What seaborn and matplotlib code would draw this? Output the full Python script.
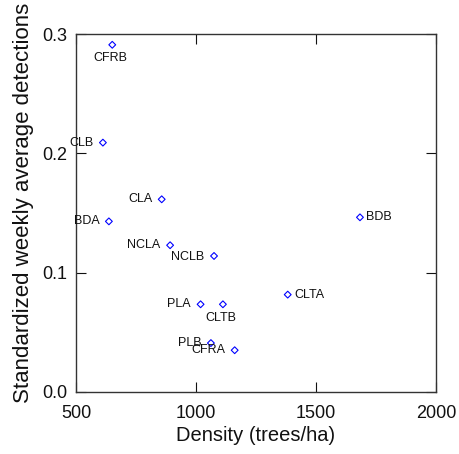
import matplotlib
matplotlib.use("Agg")
import matplotlib.pyplot as plt
import seaborn as sns
import pandas as pd

sites = ["CFRB", "CLB", "CLA", "BDA", "NCLA", "NCLB", "PLA", "CLTB", "PLB", "CFRA", "BDB", "CLTA"]
density = [651, 612, 857, 637, 892, 1075, 1019, 1112, 1062, 1161, 1683, 1382]
detections = [0.291, 0.209, 0.1615, 0.143, 0.123, 0.114, 0.0735, 0.0735, 0.041, 0.035, 0.1464, 0.0816]
# label placement: (dx px, dy px, ha)
label_pos = {
    "CFRB": (-1.5, -13.5, "center"),
    "CLB": (-9, 0, "right"),
    "CLA": (-9.5, 0, "right"),
    "BDA": (-9, 0, "right"),
    "NCLA": (-10, 0, "right"),
    "NCLB": (-10, -1, "right"),
    "PLA": (-9.5, 0, "right"),
    "CLTB": (-2, -13.5, "center"),
    "PLB": (-9.5, 0, "right"),
    "CFRA": (-9.5, 0, "right"),
    "BDB": (6, 0, "left"),
    "CLTA": (6.5, 0, "left"),
}

df = pd.DataFrame({"site": sites, "density": density, "det": detections})

sns.set_style("white")
plt.rcParams["font.family"] = ["Liberation Sans", "DejaVu Sans"]

fig = plt.figure(figsize=(4.59, 4.54), dpi=100)
ax = fig.add_axes([0.1656, 0.1366, 0.7844, 0.7884])

sns.scatterplot(data=df, x="density", y="det", ax=ax, marker="D", s=12,
                facecolor="none", edgecolor="#0000ff", linewidth=0.8, legend=False)

for s, x, y in zip(sites, density, detections):
    dx, dy, ha = label_pos[s]
    ax.annotate(s, (x, y), xytext=(dx, dy), textcoords="offset pixels",
                ha=ha, va="center", fontsize=9, color="#111111")

ax.set_xlim(500, 2000)
ax.set_ylim(0.0, 0.3)
ax.set_xticks([500, 1000, 1500, 2000])
ax.set_yticks([0.0, 0.1, 0.2, 0.3])
ax.set_yticklabels(["0.0", "0.1", "0.2", "0.3"])
ax.set_xlabel("Density (trees/ha)", fontsize=14.5, labelpad=3, color="#111111")
ax.set_ylabel("Standardized weekly average detections", fontsize=16, color="#111111")
ax.yaxis.set_label_coords(-0.118, 0.529)
ax.tick_params(direction="in", length=7, width=0.8, labelsize=13, colors="#111111",
               top=True, right=True, bottom=True, left=True)
ax.tick_params(axis="x", pad=9.5)
ax.tick_params(axis="y", pad=6.5)
for sp in ax.spines.values():
    sp.set_visible(True)
    sp.set_color("#333333")
    sp.set_linewidth(1.0)

fig.savefig("out.png", dpi=100)
